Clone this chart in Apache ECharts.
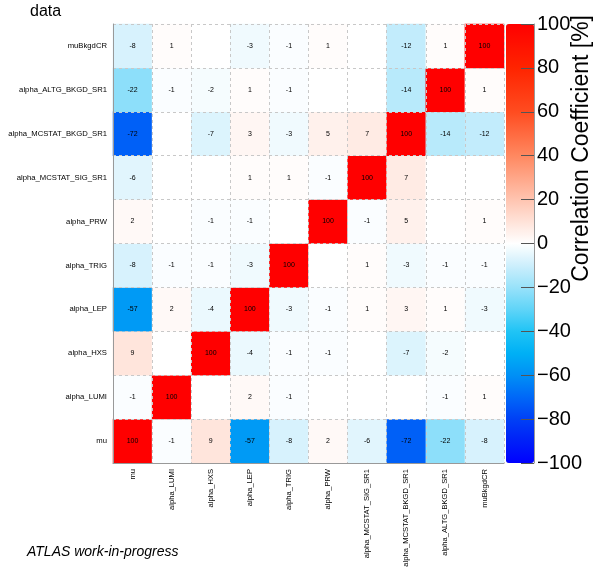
<!DOCTYPE html>
<html>
<head>
<meta charset="utf-8">
<script src="https://cdn.jsdelivr.net/npm/echarts@6/dist/echarts.min.js"></script>
<style>html,body{margin:0;padding:0;background:#fff}#c{width:595px;height:567px}</style>
</head>
<body>
<div id="c"></div>
<script>
const parameters = ['mu','alpha_LUMI','alpha_HXS','alpha_LEP','alpha_TRIG','alpha_PRW','alpha_MCSTAT_SIG_SR1','alpha_MCSTAT_BKGD_SR1','alpha_ALTG_BKGD_SR1','muBkgdCR'];
const row_mu        = [100, -1, 9, -57, -8, 2, -6, -72, -22, -8];
const row_LUMI      = [-1, 100, 0, 2, -1, 0, 0, 0, -1, 1];
const row_HXS       = [9, 0, 100, -4, -1, -1, 0, -7, -2, 0];
const row_LEP       = [-57, 2, -4, 100, -3, -1, 1, 3, 1, -3];
const row_TRIG      = [-8, -1, -1, -3, 100, 0, 1, -3, -1, -1];
const row_PRW       = [2, 0, -1, -1, 0, 100, -1, 5, 0, 1];
const row_MCSTAT_SIG  = [-6, 0, 0, 1, 1, -1, 100, 7, 0, 0];
const row_MCSTAT_BKGD = [-72, 0, -7, 3, -3, 5, 7, 100, -14, -12];
const row_ALTG      = [-22, -1, -2, 1, -1, 0, 0, -14, 100, 1];
const row_muBkgdCR  = [-8, 1, 0, -3, -1, 1, 0, -12, 1, 100];

const rows = [row_mu, row_LUMI, row_HXS, row_LEP, row_TRIG, row_PRW, row_MCSTAT_SIG, row_MCSTAT_BKGD, row_ALTG, row_muBkgdCR];
const cells = [];
rows.forEach((r, yi) => r.forEach((v, xi) => cells.push([xi, yi, v])));

const palette = ['#0000ff','#0020f8','#0040f5','#0068f8','#0090f5','#00b0f5','#20c4f5','#60d4f8','#98e2fa','#cdeffc','#ffffff',
                 '#ffe2d8','#ffc4b0','#ffa688','#ff8860','#ff6a40','#ff4c20','#ff3810','#ff2400','#ff1200','#ff0000'];
const FONT = 'Liberation Sans, Arial, Helvetica, sans-serif';

const chart = echarts.init(document.getElementById('c'), null, {renderer: 'canvas'});
chart.setOption({
  animation: false,
  backgroundColor: '#fff',
  textStyle: {fontFamily: FONT},
  grid: [
    {left: 113, top: 24, width: 391, height: 439, containLabel: false, outerBoundsMode: 'none'},
    {left: 506, top: 24, width: 28, height: 439, containLabel: false, outerBoundsMode: 'none'}
  ],
  xAxis: [
    {type: 'category', gridIndex: 0, data: parameters, z: 5,
     axisLine: {show: true, lineStyle: {color: '#999'}},
     axisTick: {show: false},
     axisLabel: {rotate: 90, fontSize: 7.6, color: '#000', margin: 6, interval: 0, fontFamily: FONT},
     splitLine: {show: true, lineStyle: {color: '#c8c8c8', type: [3, 3], width: 1}}},
    {type: 'value', gridIndex: 1, show: false, min: 0, max: 1}
  ],
  yAxis: [
    {type: 'category', gridIndex: 0, data: parameters, z: 5,
     axisLine: {show: true, lineStyle: {color: '#999'}},
     axisTick: {show: false},
     axisLabel: {fontSize: 7.7, color: '#000', margin: 6, interval: 0, fontFamily: FONT},
     splitLine: {show: true, lineStyle: {color: '#c8c8c8', type: [3, 3], width: 1}}},
    {type: 'value', gridIndex: 1, min: -100, max: 100, interval: 20, position: 'right', z: 10,
     axisLine: {show: true, onZero: false, lineStyle: {color: '#999', width: 1}},
     axisTick: {show: true, inside: true, length: 13, lineStyle: {color: '#555', width: 1}},
     splitLine: {show: false},
     axisLabel: {fontSize: 20, color: '#000', margin: 3, fontFamily: FONT,
                 formatter: v => String(v).replace('-', '\u2212')}}
  ],
  visualMap: {
    type: 'continuous', min: -100, max: 100, calculable: false, seriesIndex: 0,
    orient: 'vertical', left: 506, top: 24, itemWidth: 28, itemHeight: 439, padding: 0,
    text: ['', ''], showLabel: false, z: 1,
    inRange: {color: palette}
  },
  series: [
    {type: 'heatmap', xAxisIndex: 0, yAxisIndex: 0, data: cells, z: 2,
     label: {show: true, fontSize: 7, color: '#000', fontFamily: FONT,
             formatter: p => p.value[2] === 0 ? '' : String(p.value[2])},
     itemStyle: {borderWidth: 0}},
    {type: 'scatter', xAxisIndex: 1, yAxisIndex: 1, data: [], silent: true}
  ],
  graphic: [
    {type: 'text', left: 30, top: 4, style: {text: 'data', font: '16px ' + FONT, fill: '#000'}},
    {type: 'text', left: 27, top: 545, style: {text: 'ATLAS work-in-progress', font: 'italic 14px ' + FONT, fill: '#000'}},
    {type: 'text', x: 582, y: 15, rotation: Math.PI / 2,
     style: {text: 'Correlation Coefficient [%]', font: '23px ' + FONT, fill: '#000', textAlign: 'right', textVerticalAlign: 'middle'}}
  ]
});
</script>
</body>
</html>
